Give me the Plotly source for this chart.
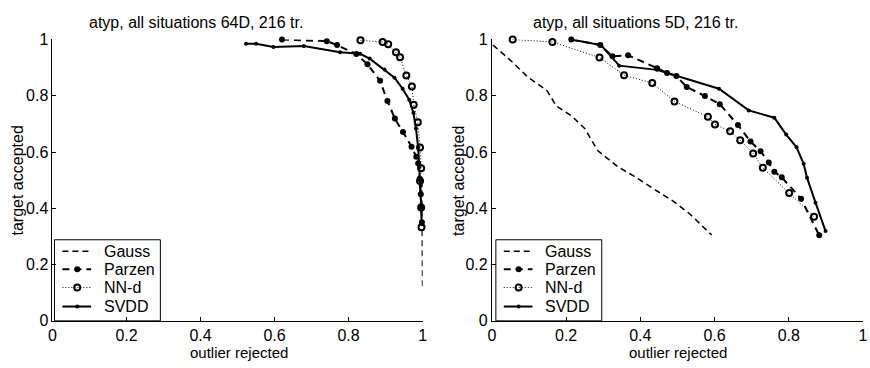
import plotly.graph_objects as go

# ---------------- data ----------------
# Left panel: atyp, all situations 64D
L_gauss_x = [0.998, 0.999, 1.0, 1.0]
L_gauss_y = [0.50, 0.40, 0.30, 0.11]

L_parzen_x = [0.620, 0.741, 0.769, 0.821, 0.851, 0.885, 0.905, 0.925, 0.947, 0.970, 0.983, 0.988, 0.992, 0.995, 0.997, 0.998]
L_parzen_y = [1.000, 0.994, 0.980, 0.948, 0.912, 0.853, 0.781, 0.719, 0.671, 0.619, 0.583, 0.560, 0.505, 0.450, 0.400, 0.350]

L_nnd_x = [0.832, 0.892, 0.907, 0.928, 0.939, 0.956, 0.971, 0.976, 0.987, 0.993, 0.996, 0.993, 0.996, 0.997]
L_nnd_y = [0.997, 0.991, 0.983, 0.955, 0.937, 0.872, 0.833, 0.768, 0.706, 0.616, 0.542, 0.497, 0.403, 0.333]

L_svdd_x = [0.523, 0.550, 0.597, 0.679, 0.777, 0.831, 0.857, 0.897, 0.924, 0.946, 0.964, 0.975, 0.982, 0.988, 0.991, 0.995, 0.996, 0.998]
L_svdd_y = [0.985, 0.985, 0.973, 0.977, 0.955, 0.949, 0.932, 0.893, 0.864, 0.825, 0.785, 0.740, 0.684, 0.616, 0.548, 0.480, 0.412, 0.345]

# Right panel: atyp, all situations 5D
R_gauss_x = [0.003, 0.045, 0.099, 0.148, 0.174, 0.214, 0.250, 0.285, 0.339, 0.383, 0.436, 0.490, 0.534, 0.592]
R_gauss_y = [0.980, 0.932, 0.864, 0.819, 0.763, 0.729, 0.684, 0.605, 0.548, 0.514, 0.469, 0.424, 0.379, 0.305]

R_parzen_x = [0.214, 0.292, 0.325, 0.367, 0.445, 0.472, 0.497, 0.525, 0.574, 0.614, 0.663, 0.697, 0.724, 0.746, 0.761, 0.781, 0.833, 0.882]
R_parzen_y = [1.000, 0.980, 0.940, 0.944, 0.898, 0.881, 0.870, 0.831, 0.799, 0.770, 0.696, 0.637, 0.603, 0.563, 0.530, 0.510, 0.434, 0.304]

R_nnd_x = [0.056, 0.163, 0.290, 0.356, 0.432, 0.492, 0.582, 0.601, 0.642, 0.669, 0.704, 0.730, 0.801, 0.868]
R_nnd_y = [1.000, 0.991, 0.936, 0.873, 0.845, 0.780, 0.725, 0.698, 0.674, 0.642, 0.595, 0.544, 0.454, 0.370]

R_svdd_x = [0.214, 0.294, 0.343, 0.445, 0.497, 0.612, 0.692, 0.761, 0.793, 0.821, 0.840, 0.849, 0.872, 0.899]
R_svdd_y = [1.000, 0.980, 0.907, 0.892, 0.871, 0.825, 0.748, 0.722, 0.662, 0.617, 0.558, 0.509, 0.420, 0.319]

series_names = ["Gauss", "Parzen", "NN-d", "SVDD"]
titles = ["atyp, all situations 64D, 216 tr.", "atyp, all situations 5D, 216 tr."]
xlabel = "outlier rejected"
ylabel = "target accepted"
tickvals = [0, 0.2, 0.4, 0.6, 0.8, 1]
ticktext = ["0", "0.2", "0.4", "0.6", "0.8", "1"]

W, H = 870, 368
FONT = "Liberation Sans, Arial, sans-serif"

STYLES = {
    "Gauss": dict(mode="lines", line=dict(color="black", width=1.5, dash="6px,4px")),
    "Parzen": dict(mode="lines+markers", line=dict(color="black", width=2, dash="7px,5px"),
                   marker=dict(symbol="circle", size=6, color="black")),
    "NN-d": dict(mode="lines+markers", line=dict(color="black", width=1, dash="1px,2px"),
                 marker=dict(symbol="circle-open", size=6, color="black",
                             line=dict(width=2, color="black"))),
    "SVDD": dict(mode="lines+markers", line=dict(color="black", width=2),
                 marker=dict(symbol="circle", size=4, color="black")),
}

fig = go.Figure()

def add_panel(suffix, data):
    for name, (xs, ys) in zip(series_names, data):
        fig.add_trace(go.Scatter(x=xs, y=ys, name=name, xaxis="x" + suffix,
                                 yaxis="y" + suffix, cliponaxis=False,
                                 showlegend=False, **STYLES[name]))

add_panel("", [(L_gauss_x, L_gauss_y), (L_parzen_x, L_parzen_y),
               (L_nnd_x, L_nnd_y), (L_svdd_x, L_svdd_y)])
add_panel("2", [(R_gauss_x, R_gauss_y), (R_parzen_x, R_parzen_y),
                (R_nnd_x, R_nnd_y), (R_svdd_x, R_svdd_y)])

# ---- manual legends (drawn on an overlay pixel axis) ----
shapes = []
ann = []
row_y = [255, 274, 293, 313]
for off in [0, 446]:
    shapes.append(dict(type="rect", xref="x3", yref="y3",
                       x0=51 + off, x1=158 + off, y0=243, y1=328,
                       line=dict(color="black", width=1),
                       fillcolor="rgba(0,0,0,0)", layer="above"))
for off in [0, 446]:
    for name, ry in zip(series_names, row_y):
        st = STYLES[name]
        fig.add_trace(go.Scatter(x=[59 + off, 88 + off], y=[ry, ry], mode="lines",
                                 line=st["line"], xaxis="x3", yaxis="y3",
                                 showlegend=False, hoverinfo="skip", cliponaxis=False))
        if "marker" in st:
            fig.add_trace(go.Scatter(x=[74 + off], y=[ry], mode="markers",
                                     marker=st["marker"], xaxis="x3", yaxis="y3",
                                     showlegend=False, hoverinfo="skip", cliponaxis=False))
        ann.append(dict(x=99 + off, y=ry, xref="x3", yref="y3", text=name,
                        showarrow=False, xanchor="left", yanchor="middle",
                        font=dict(family=FONT, size=16, color="black")))

ydom = [1 - 328 / H, 1 - 33 / H]
axis_common = dict(range=[0, 1], tickvals=tickvals, ticktext=ticktext,
                   ticks="inside", ticklen=4, tickcolor="black", tickwidth=1,
                   showline=True, linecolor="black", linewidth=1, mirror=False,
                   showgrid=False, zeroline=False,
                   tickfont=dict(family=FONT, size=16, color="black"))

fig.update_layout(
    width=W, height=H,
    margin=dict(l=0, r=0, t=0, b=0),
    paper_bgcolor="white", plot_bgcolor="rgba(0,0,0,0)",
    font=dict(family=FONT, color="black"),
    xaxis=dict(domain=[49 / W, 423 / W], anchor="y", **axis_common),
    yaxis=dict(domain=ydom, anchor="x", **axis_common),
    xaxis2=dict(domain=[493 / W, 868 / W], anchor="y2", **axis_common),
    yaxis2=dict(domain=ydom, anchor="x2", **axis_common),
    xaxis3=dict(domain=[0, 1], range=[0, W], visible=False, anchor="y3", fixedrange=True),
    yaxis3=dict(domain=[0, 1], range=[H, 0], visible=False, anchor="x3", fixedrange=True),
    showlegend=False,
    shapes=shapes,
)

for cx, t in [(194, titles[0]), (638, titles[1])]:
    ann.append(dict(x=cx / W, y=1 - 15 / H, xref="paper", yref="paper",
                    text=t, showarrow=False, xanchor="center", yanchor="middle",
                    font=dict(family=FONT, size=16, color="black")))
for cx in [237, 681]:
    ann.append(dict(x=cx / W, y=1 - 361 / H, xref="paper", yref="paper",
                    text=xlabel, showarrow=False, xanchor="center", yanchor="middle",
                    font=dict(family=FONT, size=15, color="black")))
for cx in [14, 459]:
    ann.append(dict(x=cx / W, y=1 - 181 / H, xref="paper", yref="paper",
                    text=ylabel, showarrow=False, xanchor="center", yanchor="middle",
                    textangle=-90,
                    font=dict(family=FONT, size=16, color="black")))
fig.update_layout(annotations=ann)

fig.write_html("out.html")
